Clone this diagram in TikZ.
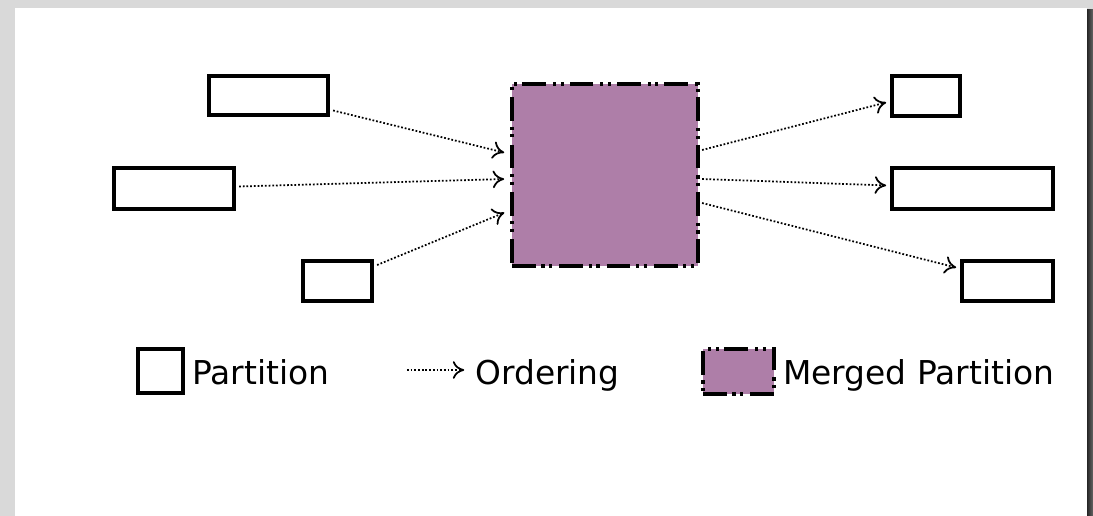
\documentclass[tikz,border=0pt]{standalone}
\usepackage{fontspec}
\setmainfont{DejaVu Sans}
\usetikzlibrary{arrows.meta,calc,positioning}

\definecolor{mergefill}{RGB}{174,126,168}

\begin{document}
\begin{tikzpicture}[x=0.02cm,y=-0.02cm,
    part/.style={draw,line width=2.4pt,inner sep=0pt},
    merged/.style={part,fill=mergefill,
      dash pattern=on 13.5pt off 3.2pt on 1.8pt off 2.6pt on 1.8pt off 4pt},
    order/.style={line width=1pt,dash pattern=on 1pt off 1.1pt,
      -{To[length=6.5pt,width=10pt]},shorten >=1pt},
    legendtext/.style={font=\fontsize{18.7}{22}\selectfont,inner sep=0pt,anchor=base west}]

  \useasboundingbox (0,0) rectangle (1093,516);
  % page and shadow
  \fill[gray!30] (0,0) rectangle (1093,516);
  \fill[white] (15,8) rectangle (1087,516);
  \shade[left color=black!85,right color=black!60] (1087,10) rectangle (1093,516);

  % partitions on the left
  \node[part,minimum width=2.38cm,minimum height=0.78cm] (p1) at (268.5,95.5) {};
  \node[part,minimum width=2.4cm,minimum height=0.82cm] (p2) at (174,188.5) {};
  \node[part,minimum width=1.38cm,minimum height=0.8cm] (p3) at (337.5,281) {};

  % merged partition
  \node[merged,minimum width=3.72cm,minimum height=3.64cm] (m) at (605,175) {};

  % partitions on the right
  \node[part,minimum width=1.36cm,minimum height=0.8cm] (r1) at (926,96) {};
  \node[part,minimum width=3.22cm,minimum height=0.82cm] (r2) at (972.5,188.5) {};
  \node[part,minimum width=1.82cm,minimum height=0.8cm] (r3) at (1007.5,281) {};

  % orderings
  \draw[order] ($(p1.east)+(3,15)$) -- ($(m.west)+(-4,-22)$);
  \draw[order] ($(p2.east)+(3,-2)$) -- ($(m.west)+(-4,4)$);
  \draw[order] ($(p3.east)+(3,-16)$) -- ($(m.west)+(-4,37)$);
  \draw[order] ($(m.east)+(2,-25)$) -- ($(r1.west)+(-2,6)$);
  \draw[order] ($(m.east)+(2,4)$) -- ($(r2.west)+(-2,-3)$);
  \draw[order] ($(m.east)+(2,28)$) -- ($(r3.west)+(-2,-13)$);

  % legend
  \node[part,minimum width=0.9cm,minimum height=0.88cm] (l1) at (160.5,371) {};
  \node[legendtext] (t1) at (192,385) {Partition};
  \coordinate (o1) at (407,370);
  \coordinate (o2) at (466,370);
  \draw[order] (o1) -- (o2);
  \node[legendtext] (t2) at (475,385) {Ordering};
  \node[merged,minimum width=1.42cm,minimum height=0.9cm] (l2) at (738.5,371.5) {};
  \node[legendtext] (t3) at (783,385) {Merged Partition};
\end{tikzpicture}
\end{document}
